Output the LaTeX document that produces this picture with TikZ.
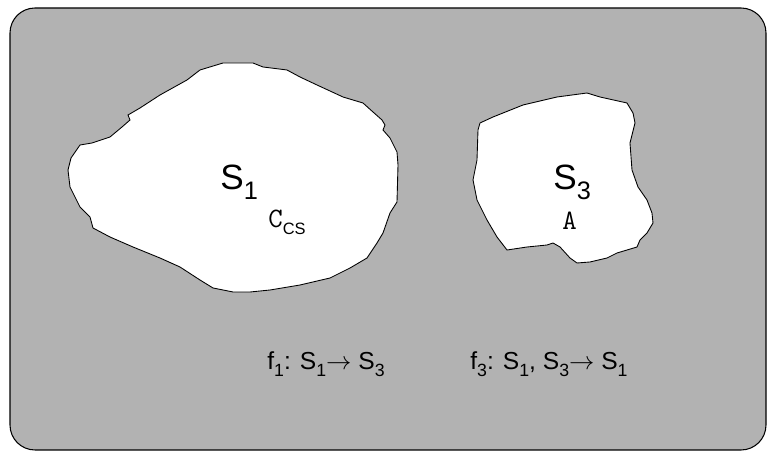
\documentclass[tikz,border=0pt]{standalone}
\usepackage{fontspec}
\setmainfont{Liberation Sans}
\newcommand{\lo}[1]{\raisebox{-0.5ex}{\scalebox{0.72}{#1}}}

\begin{document}
\begin{tikzpicture}[x=0.02cm,y=-0.02cm,
	region/.style={draw=black, line width=0.5pt, fill=white},
	setname/.style={anchor=base west, inner sep=0, font=\fontsize{20}{20}\selectfont},
	elem/.style={anchor=base west, inner sep=0, font=\ttfamily\fontsize{16}{16}\selectfont},
	mapping/.style={anchor=base west, inner sep=0, font=\fontsize{14}{14}\selectfont}]

\useasboundingbox (0,0) rectangle (772,455);
\draw[line width=0.6pt, fill=black!30, rounded corners=0.5cm] (10,8) rectangle (766,450);

% S1
\draw[region] (200,70) -- (223,63) -- (253,63) -- (263,67) -- (287,70) -- (300,77) -- (317,85)
	-- (343,97) -- (363,103) -- (373,112) -- (382,120) -- (385,125) -- (383,130) -- (390,138)
	-- (397,152) -- (398,165) -- (397,202) -- (390,213) -- (383,233) -- (377,243) -- (367,258)
	-- (350,268) -- (330,278) -- (300,285) -- (270,290) -- (250,292) -- (233,292) -- (213,288)
	-- (200,280) -- (180,267) -- (160,258) -- (133,247) -- (110,237) -- (93,228) -- (90,217)
	-- (80,207) -- (70,187) -- (68,170) -- (71,158) -- (80,145) -- (92,143) -- (110,137)
	-- (122,127) -- (130,120) -- (128,115) -- (140,108) -- (160,95) -- (187,80) -- cycle;

% S3
\draw[region] (480,123) -- (493,117) -- (523,105) -- (557,97) -- (587,93) -- (600,97) -- (627,103)
	-- (633,113) -- (635,123) -- (630,143) -- (632,170) -- (638,187) -- (647,200) -- (652,213)
	-- (653,223) -- (647,233) -- (640,240) -- (637,247) -- (627,250) -- (617,253) -- (607,258)
	-- (590,262) -- (577,263) -- (570,258) -- (560,247) -- (553,243) -- (547,245) -- (527,247)
	-- (507,250) -- (497,237) -- (487,220) -- (477,200) -- (473,180) -- (477,160) -- (478,130)
	-- cycle;

\node[setname] (s1) at (220,190) {S\lo{1}};
\node[elem] (ccs) at (268,228) {C\lo{\rmfamily\fontsize{13}{13}\selectfont CS}};
\node[setname] (s3) at (553,190) {S\lo{3}};
\node[elem] (a) at (562,230) {A};

\node[mapping] (f1) at (267,370) {f\lo{1}: S\lo{1}$\rightarrow$ S\lo{3}};
\node[mapping] (f3) at (470,370) {f\lo{3}: S\lo{1}, S\lo{3}$\rightarrow$ S\lo{1}};

\end{tikzpicture}
\end{document}
